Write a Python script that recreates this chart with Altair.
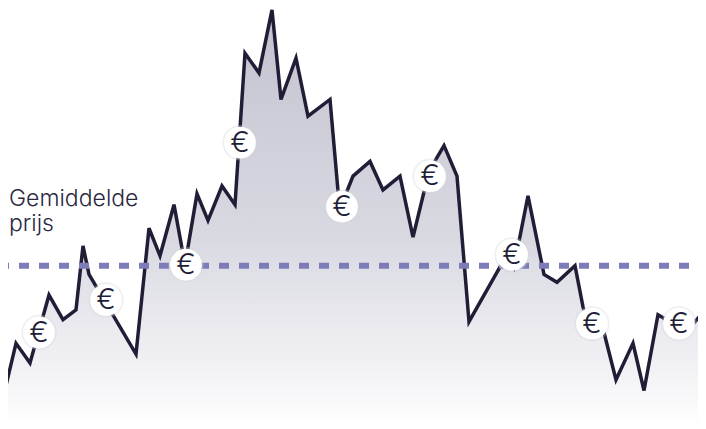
import altair as alt
import pandas as pd

# positions along the time axis and price levels
t = [2, 16, 30, 49, 63, 76, 83, 89, 136, 149, 160, 174, 185, 197, 208, 222, 235, 245, 259, 272,
     281, 296, 308, 330, 338, 340, 353, 370, 383, 400, 413, 429, 444, 457, 469, 508, 514, 528,
     544, 557, 575, 583, 590, 600, 616, 633, 644, 658, 663, 675, 690, 705]
price = [27, 87, 67, 136, 111, 121, 186, 157, 76, 204, 176, 228, 167, 239, 212, 247, 228, 382,
         362, 426, 335, 377, 318, 335, 242, 224, 257, 272, 243, 257, 195, 262, 288, 257, 109, 179,
         165, 237, 157, 149, 166, 124, 97, 114, 50, 87, 39, 116, 113, 104, 103, 121]
marker_t = [39, 106, 186, 240, 342, 430, 512, 592, 679]
marker_price = [98, 131, 167, 291, 226, 257, 177, 107, 107]
average_price = 166
label_lines = ["Gemiddelde", "prijs"]
label_t = [9, 9]
label_price = [234, 208]

line_df = pd.DataFrame({"t": t, "price": price})
marker_df = pd.DataFrame({"t": marker_t, "price": marker_price})
label_df = pd.DataFrame({"t": label_t, "price": label_price, "text": label_lines})

x = alt.X("t:Q", scale=alt.Scale(domain=[8, 698], nice=False, zero=False), axis=None)
y = alt.Y("price:Q", scale=alt.Scale(domain=[8, 428], nice=False, zero=False), axis=None)

area = alt.Chart(line_df).mark_area(
    interpolate="linear",
    color=alt.Gradient(
        gradient="linear", x1=0, x2=0, y1=0, y2=1,
        stops=[
            alt.GradientStop(color="#c3c3d0", offset=0),
            alt.GradientStop(color="#d9d9e2", offset=0.55),
            alt.GradientStop(color="#f4f4f7", offset=0.88),
            alt.GradientStop(color="#ffffff", offset=1),
        ],
    ),
).encode(x=x, y=y)

line = alt.Chart(line_df).mark_line(
    color="#211d36", strokeWidth=3.5, interpolate="linear", strokeJoin="miter"
).encode(x=x, y=y)

avg = alt.Chart(pd.DataFrame({"price": [average_price]})).mark_rule(
    color="#7c7cb8", strokeWidth=6, strokeDash=[10, 10], strokeDashOffset=11
).encode(y=y)

halo = alt.Chart(marker_df).mark_circle(size=1250, color="#d4d4de", opacity=0.35).encode(x=x, y=y)
disc = alt.Chart(marker_df).mark_circle(size=1010, color="#ffffff", opacity=1).encode(x=x, y=y)
euro = alt.Chart(marker_df).mark_text(
    text="€", font="Inter", fontSize=29, fontWeight=300, color="#211d36", baseline="middle", align="center"
).encode(x=x, y=y)

label = alt.Chart(label_df).mark_text(
    font="Inter", fontSize=23, fontWeight=300, color="#2a2740", align="left", baseline="middle"
).encode(x=x, y=y, text="text:N")

chart = (
    alt.layer(area, line, avg, halo, disc, euro, label)
    .properties(width=690, height=413, padding=0, autosize=alt.AutoSizeParams(type="none"),
                background="#ffffff")
    .configure_view(stroke=None)
)

chart.save("out.html", embed_options={"renderer": "svg", "actions": False})
